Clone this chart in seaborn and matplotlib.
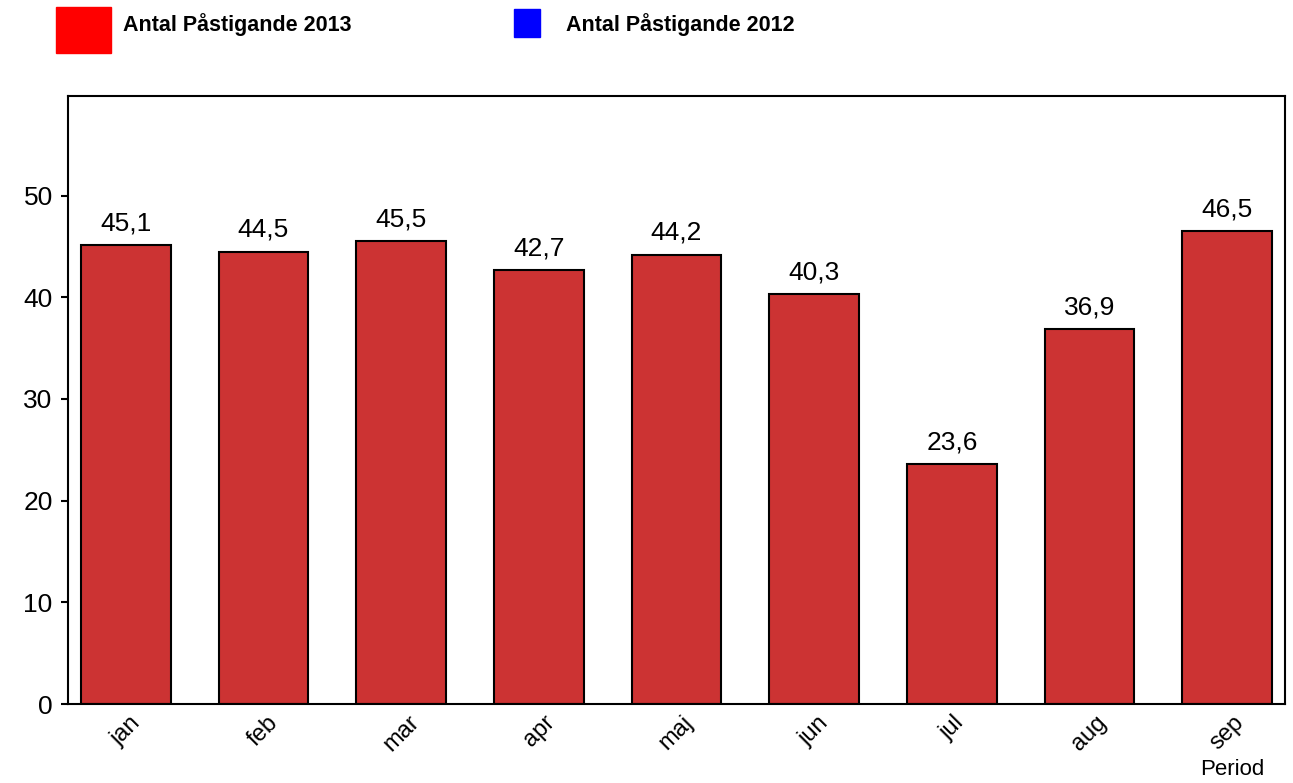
import matplotlib
matplotlib.use('Agg')
import matplotlib.pyplot as plt
import matplotlib.patches as mpatches
import seaborn as sns
import pandas as pd

# data
months = ['jan', 'feb', 'mar', 'apr', 'maj', 'jun', 'jul', 'aug', 'sep']
pastigande_2013 = [45.1, 44.5, 45.5, 42.7, 44.2, 40.3, 23.6, 36.9, 46.5]
legend_labels = ['Antal Påstigande 2013', 'Antal Påstigande 2012']
yticks = [0, 10, 20, 30, 40, 50]

df = pd.DataFrame({'Period': months, 'Antal': pastigande_2013})

sns.set_style('white')
plt.rcParams['font.family'] = ['Liberation Sans', 'DejaVu Sans']
plt.rcParams.update({'text.color': 'black', 'axes.labelcolor': 'black',
                     'xtick.color': 'black', 'ytick.color': 'black'})

fig = plt.figure(figsize=(12.93, 7.83), dpi=100)
ax = fig.add_axes([68 / 1293, 79 / 783, 1217 / 1293, 608 / 783])

sns.barplot(data=df, x='Period', y='Antal', color='#CC3333', saturation=1,
            edgecolor='black', linewidth=1.5, width=0.65, ax=ax)

ax.bar_label(ax.containers[0], labels=[f'{v:.1f}'.replace('.', ',') for v in pastigande_2013],
             padding=7, fontsize=19)

ax.set_xlim(-0.42, 8.42)
ax.set_ylim(0, 59.8)
ax.set_yticks(yticks)
ax.tick_params(axis='y', left=True, length=5, width=1.5, labelsize=19, pad=6)
ax.tick_params(axis='x', bottom=False, labelsize=17, pad=2)
for lbl in ax.get_xticklabels():
    lbl.set_rotation(45)
    lbl.set_ha('center')
ax.set_ylabel('')
ax.set_xlabel('Period', fontsize=16, labelpad=0)
ax.xaxis.set_label_coords(0.957, -0.091)
for sp in ax.spines.values():
    sp.set_color('black')
    sp.set_linewidth(1.5)

# legend drawn by hand at the top
fig.patches.append(mpatches.Rectangle((56 / 1293, 1 - 53 / 783), 55 / 1293, 46 / 783,
                                      transform=fig.transFigure, color='#FF0000'))
fig.patches.append(mpatches.Rectangle((514 / 1293, 1 - 37 / 783), 26 / 1293, 28 / 783,
                                      transform=fig.transFigure, color='#0000FF'))
fig.text(123 / 1293, 1 - 25 / 783, legend_labels[0], fontsize=15.5, fontweight='bold', va='center')
fig.text(566 / 1293, 1 - 25 / 783, legend_labels[1], fontsize=15.5, fontweight='bold', va='center')

plt.savefig('out.png', dpi=100)
